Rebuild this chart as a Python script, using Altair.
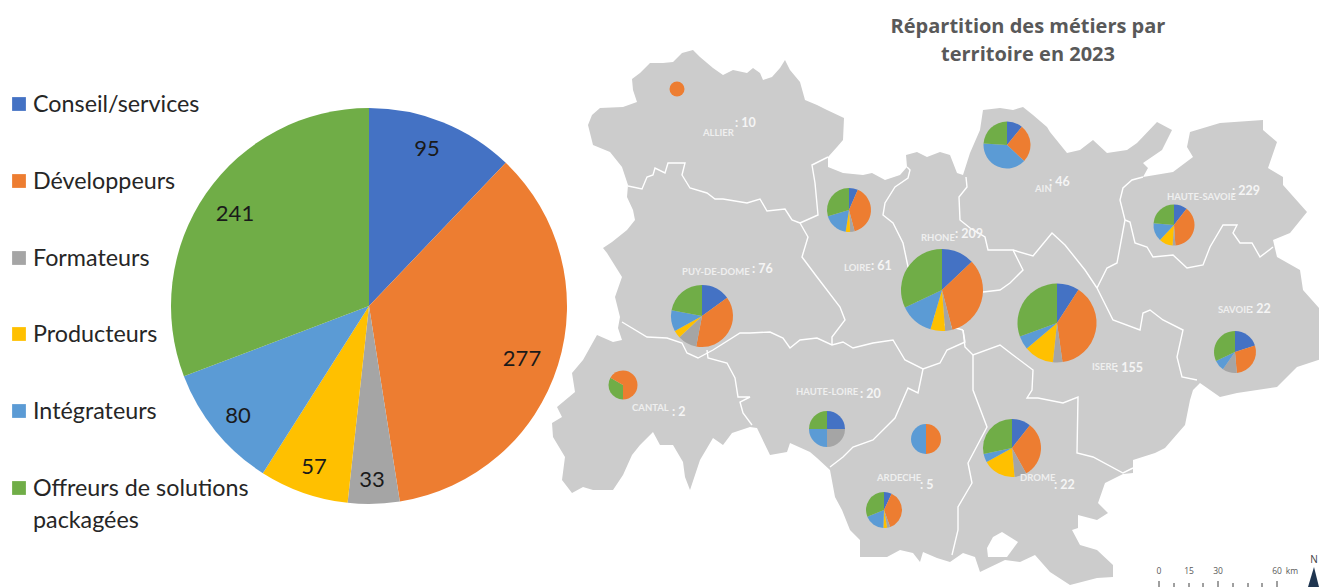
import math
import altair as alt
import pandas as pd

PAGE_W, PAGE_H, M = 1327, 587, 8
PLOT_W = 1311  # the page shrinks anything wider than its 1311px body
PLOT_H = 579

CATEGORIES = ["Conseil/services", "Développeurs", "Formateurs", "Producteurs", "Intégrateurs", "Offreurs"]
COLORS = ["#4472C4", "#ED7D31", "#A5A5A5", "#FFC000", "#5B9BD5", "#70AD47"]

# name, centre x, centre y, radius, shares in category order
MAIN_VALUES = [95, 277, 33, 57, 80, 241]
PIES = [
    ("Global", 369, 306, 198, MAIN_VALUES),
    ("Puy-de-Dome", 702, 316, 31, [15, 38, 10, 4, 11, 22]),
    ("Loire", 849, 210, 22, [4, 24, 2, 2, 11, 18]),
    ("Rhone", 942, 290, 41, [27, 69, 6, 12, 28, 67]),
    ("Ain", 1007, 145, 23.5, [5, 12, 0, 0, 18, 11]),
    ("Haute-Savoie", 1174, 225, 20.5, [24, 88, 5, 25, 33, 54]),
    ("Savoie", 1235, 352, 21, [72, 103, 40, 0, 30, 115]),
    ("Isere", 1057, 323, 39.5, [33, 139, 14, 44, 20, 110]),
    ("Haute-Loire", 827, 429, 18, [5, 0, 5, 0, 5, 5]),
    ("Ardeche-bleu", 926, 439, 15, [0, 5, 0, 0, 5, 0]),
    ("Drome", 1012, 448, 29, [38, 113, 24, 66, 17, 102]),
    ("Ardeche", 884, 510, 18, [25, 135, 10, 12, 66, 112]),
    ("Allier", 677, 89, 7.5, [0, 10, 0, 0, 0, 0]),
]
# Cantal's orange slice wraps across the top of the pie
CANTAL = ("Cantal", 623, 385, 14.5, [("Développeurs", 3), ("Offreurs", 2), ("Développeurs", 1)])

SILHOUETTE = [
(588,125),(592,115),(600,108),(623,107),(637,102),(633,90),(632,79),(640,73),(650,63),(663,63),(673,62),(682,53),(693,50),(700,57),(713,68),(723,75),(733,70),(747,73),(753,68),(760,73),(763,80),(772,77),(780,68),(785,60),(790,70),(800,82),(805,100),(817,105),(827,110),(844,118),(843,140),(837,147),(828,157),(828,167),(843,173),(863,175),(872,173),(885,180),(900,175),(907,167),(906,155),(917,152),(927,157),(940,152),(950,155),(957,173),(963,175),(970,153),(980,130),(983,110),(1000,108),(1013,110),(1023,107),(1033,115),(1047,127),(1050,132),(1067,153),(1080,150),(1093,140),(1107,153),(1127,150),(1137,143),(1157,122),(1172,130),(1162,150),(1143,163),(1148,168),(1143,177),(1173,172),(1193,157),(1187,147),(1190,132),(1220,123),(1263,120),(1263,130),(1277,142),(1268,168),(1283,177),(1283,185),(1307,212),(1290,233),(1273,240),(1277,257),(1300,270),(1303,290),(1327,317),(1327,357),(1297,367),(1277,387),(1237,393),(1220,397),(1200,383),(1193,390),(1190,400),(1185,425),(1165,448),(1155,453),(1133,460),(1133,473),(1123,474),(1105,483),(1098,503),(1108,513),(1097,520),(1078,515),(1078,528),(1072,530),(1080,545),(1097,550),(1113,565),(1113,577),(1097,578),(1070,585),(1050,572),(1035,555),(1020,562),(1005,560),(980,572),(975,557),(963,553),(950,562),(937,558),(923,552),(920,562),(913,553),(900,550),(887,557),(860,557),(860,540),(850,530),(842,510),(835,497),(830,470),(817,458),(810,452),(790,443),(787,452),(770,455),(757,428),(750,427),(732,433),(723,445),(713,438),(700,460),(690,490),(685,477),(683,462),(673,445),(660,445),(653,432),(640,445),(632,455),(623,475),(613,490),(593,490),(583,487),(572,493),(562,480),(565,457),(553,437),(552,423),(562,417),(557,407),(575,392),(572,373),(583,360),(597,335),(613,342),(622,340),(618,328),(620,317),(615,297),(622,277),(607,253),(603,248),(612,242),(627,230),(635,220),(633,210),(627,197),(628,185),(622,167),(610,152),(593,145),
]
ENCLAVE = [(987,548),(993,537),(1002,532),(1018,542),(1007,557),(988,557)]
NORTH_ARROW = [(1314,567),(1308,587),(1319,587)]

BORDERS = [
[(628,186),(642,189),(647,177),(653,175),(655,168),(665,173),(668,163),(685,163),(682,175),(690,188),(707,193),(715,199),(723,199),(747,203),(760,199),(767,211),(785,209),(792,220),(800,223)],
[(800,223),(818,215),(815,183),(812,165),(828,157)],
[(800,223),(808,237),(802,257),(817,277),(840,307),(845,320),(832,337),(832,345)],
[(622,322),(647,337),(667,338),(682,343),(687,353),(698,358),(713,350),(740,333),(750,333),(770,332),(783,338),(790,348),(800,340),(817,338),(832,345),(843,342),(853,348),(873,343),(893,340),(905,360),(923,369),(940,363),(947,350),(965,342),(963,330)],
[(707,350),(708,358),(727,363),(735,378),(738,397),(750,397),(740,402),(743,413),(752,425)],
[(907,167),(910,170),(908,178),(895,187),(885,203),(883,215),(893,223),(903,243),(907,262),(915,300),(945,325),(963,330)],
[(966,177),(967,187),(959,197),(960,220),(970,228),(985,237),(988,250),(1013,250),(1023,270),(1010,283),(1000,290),(983,292)],
[(1013,250),(1033,256),(1052,233),(1065,245),(1085,270),(1097,288)],
[(1143,177),(1132,180),(1123,188),(1120,200),(1125,220),(1117,263),(1107,268),(1097,288)],
[(1097,288),(1113,320),(1140,330),(1143,313),(1150,310),(1163,320),(1183,330),(1177,357),(1182,377),(1197,380)],
[(1125,220),(1130,222),(1135,243),(1147,247),(1153,257),(1173,255),(1187,268),(1203,265),(1210,247),(1223,225),(1237,225),(1233,233),(1240,243),(1252,243),(1260,257),(1273,247)],
[(963,330),(965,347),(973,355),(1000,345),(1013,355),(1033,370),(1032,390),(1027,398),(1038,398),(1063,403),(1078,397),(1077,453),(1093,457),(1123,473),(1133,468)],
[(973,355),(973,390),(987,427),(968,463),(972,483),(958,507),(958,530),(952,555)],
[(923,369),(918,393),(908,388),(895,418),(873,440),(853,447),(843,457),(830,467)],
]

LEGEND_Y = [104, 181, 258, 334, 411, 488]
LEGEND_TEXT_Y = [105, 182, 259, 335, 412, 489]
LEGEND_LABELS = ["Conseil/services", "Développeurs", "Formateurs", "Producteurs", "Intégrateurs", "Offreurs de solutions"]
LEGEND_EXTRA = ("packagées", 521)

PIE_LABELS = [(427,149,"95"),(522,359,"277"),(372,480,"33"),(314,467,"57"),(238,416,"80"),(235,214,"241")]
TITLE_LINES = [(1028,27,"Répartition des métiers par"),(1028,55,"territoire en 2023")]
DEPT_NAMES = [(703,133,"ALLIER"),(682,272,"PUY-DE-DOME"),(844,268,"LOIRE"),(921,238,"RHONE"),(1035,189,"AIN"),
              (1167,197,"HAUTE-SAVOIE"),(1218,310,"SAVOIE"),(1092,367,"ISERE"),(632,408,"CANTAL"),(796,392,"HAUTE-LOIRE"),
              (877,478,"ARDECHE"),(1020,478,"DROME")]
DEPT_VALUES = [(735,123,": 10"),(752,269,": 76"),(871,266,": 61"),(955,234,": 209"),(1049,182,": 46"),
               (1232,191,": 229"),(1250,309,": 22"),(1115,368,": 155"),(672,412,": 2"),(860,394,": 20"),
               (920,485,": 5"),(1054,485,": 22")]
SCALE_LABELS = [(1159,"0"),(1189,"15"),(1218,"30"),(1277,"60"),(1292,"km")]
SCALE_TICKS = [1159,1174,1189,1203,1218,1233,1248,1262,1277]
MAJOR_TICKS = [1159,1218,1277]

xs = alt.Scale(domain=[M, M + PLOT_W], range=[0, PLOT_W])
ys = alt.Scale(domain=[M, M + PLOT_H], range=[0, PLOT_H])
X = alt.X("x:Q", scale=xs, axis=None)
Y = alt.Y("y:Q", scale=ys, axis=None)
proj = alt.Projection(type="identity", scale=1, translate=[-M, -M])

def polygon(points, fill):
    ring = [list(p) for p in points] + [list(points[0])]
    feature = {"type": "Feature", "properties": {}, "geometry": {"type": "Polygon", "coordinates": [ring]}}
    return alt.Chart(alt.Data(values=[feature])).mark_geoshape(fill=fill, strokeWidth=0).project(**proj.to_dict())

def text_layer(rows, **kw):
    df = pd.DataFrame(rows, columns=["x", "y", "t"])
    return alt.Chart(df).mark_text(baseline="middle", **kw).encode(x=X, y=Y, text="t:N")

border_rows = []
for i, path in enumerate(BORDERS):
    for j, (px, py) in enumerate(path):
        border_rows.append({"x": px, "y": py, "path": i, "seq": j})
border_layer = alt.Chart(pd.DataFrame(border_rows)).mark_line(color="white", strokeWidth=1.4).encode(
    x=X, y=Y, detail="path:N", order="seq:Q")

arc_rows = []
def add_pie(name, cx, cy, r, slices):
    total = sum(v for _, v in slices)
    run = 0
    for cat, v in slices:
        if v > 0:
            arc_rows.append({"pie": name, "x": cx, "y": cy, "r": r, "cat": cat,
                             "t0": run / total, "t1": (run + v) / total})
        run += v
for name, cx, cy, r, vals in PIES:
    add_pie(name, cx, cy, r, list(zip(CATEGORIES, vals)))
add_pie(*CANTAL)

pie_layer = alt.Chart(pd.DataFrame(arc_rows)).mark_arc().encode(
    x=X, y=Y,
    theta=alt.Theta("t0:Q", scale=alt.Scale(domain=[0, 1], range=[0, 2 * math.pi]), stack=None),
    theta2=alt.Theta2("t1:Q"),
    radius=alt.Radius("r:Q", scale=alt.Scale(type="linear", domain=[0, 200], range=[0, 200])),
    color=alt.Color("cat:N", scale=alt.Scale(domain=CATEGORIES, range=COLORS), legend=None),
)

legend_df = pd.DataFrame({"x": [19] * 6, "y": LEGEND_Y, "cat": CATEGORIES})
legend_marks = alt.Chart(legend_df).mark_square(size=190, opacity=1, filled=True).encode(
    x=X, y=Y, color=alt.Color("cat:N", scale=alt.Scale(domain=CATEGORIES, range=COLORS), legend=None))
legend_text = text_layer([(33, y, t) for y, t in zip(LEGEND_TEXT_Y, LEGEND_LABELS)] + [(33, LEGEND_EXTRA[1], LEGEND_EXTRA[0])],
                         align="left", font="Lato", fontSize=23.3, color="#262626")

ticks_df = pd.DataFrame({"x": SCALE_TICKS, "y": [581 if t in MAJOR_TICKS else 583 for t in SCALE_TICKS], "y2": [587] * len(SCALE_TICKS)})
ticks = alt.Chart(ticks_df).mark_rule(color="#404040", strokeWidth=1).encode(x=X, y=Y, y2="y2:Q")

chart = alt.layer(
    polygon(SILHOUETTE, "#CCCCCC"),
    polygon(ENCLAVE, "#FFFFFF"),
    polygon(NORTH_ARROW, "#1F3550"),
    border_layer,
    pie_layer,
    legend_marks,
    legend_text,
    text_layer(PIE_LABELS, align="center", font="Lato", fontSize=22, color="#1A1A1A"),
    text_layer(TITLE_LINES, align="center", font="Open Sans", fontSize=20, fontWeight="bold", color="#595959"),
    text_layer(DEPT_NAMES, align="left", font="Lato", fontSize=9.5, fontWeight="bold", color="#EFEFEF"),
    text_layer(DEPT_VALUES, align="left", font="Lato", fontSize=12.5, fontWeight="bold", color="#F5F5F5"),
    text_layer([(p, 571, t) for p, t in SCALE_LABELS], align="center", font="Open Sans", fontSize=8.5, color="#595959"),
    text_layer([(1314, 560, "N")], align="center", font="Open Sans", fontSize=10, color="#404040"),
    ticks,
).properties(width=PLOT_W, height=PLOT_H, padding=0, autosize="none").configure_view(stroke=None)

chart.save("out.html", embed_options={"renderer": "svg", "actions": False})
